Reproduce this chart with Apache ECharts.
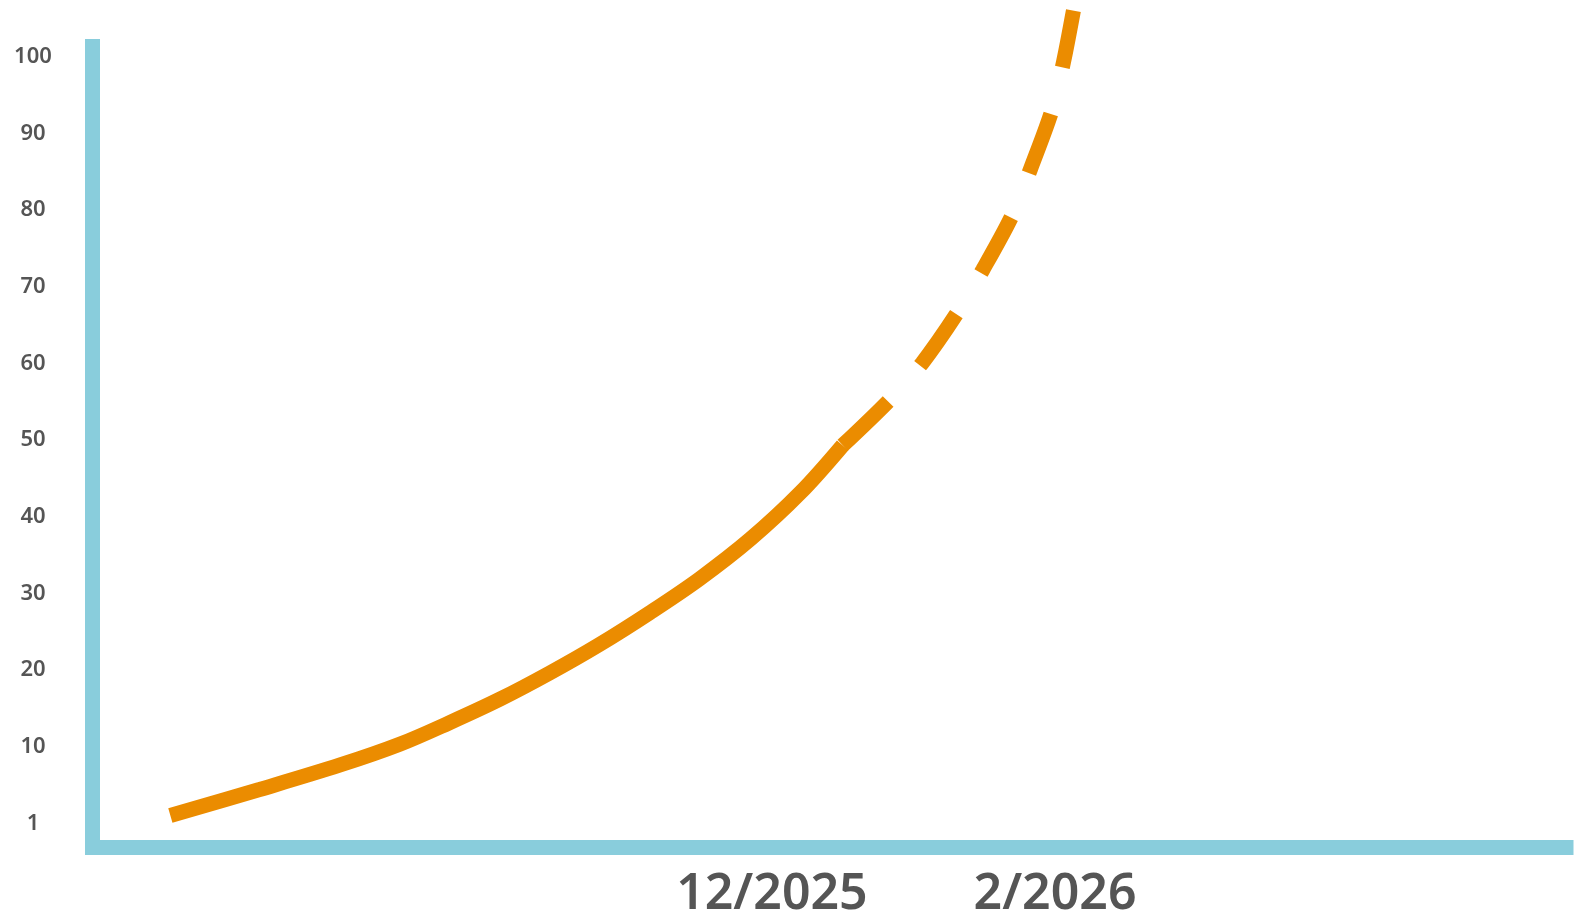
<!DOCTYPE html>
<html>
<head>
<meta charset="utf-8">
<style>
html,body{margin:0;padding:0;background:#fff;}
#chart{width:1574px;height:921px;}
</style>
<script src="https://cdn.jsdelivr.net/npm/echarts@6/dist/echarts.min.js"></script>
</head>
<body>
<div id="chart"></div>
<script>
// x values: month index (12 = 12/2025, 14 = 2/2026)
const actualMonths = [7.75, 8.38, 8.95, 9.37, 9.72, 10.08, 10.43, 10.78, 11.14, 11.49, 11.85, 12.20, 12.50];
const actualValues = [1.0, 4.4, 7.6, 10.3, 13.1, 16.2, 19.6, 23.3, 27.5, 31.9, 37.1, 43.1, 49.3];
const forecastMonths = [12.50, 12.83, 13.06, 13.31, 13.49, 13.70, 13.83, 13.98, 14.06, 14.13];
const forecastValues = [49.3, 55.2, 60.0, 66.6, 72.2, 79.4, 85.5, 93.1, 99.3, 106.0];
const yTicks = [0, 10, 20, 30, 40, 50, 60, 70, 80, 90, 100];
const yTickLabels = ['1', '10', '20', '30', '40', '50', '60', '70', '80', '90', '100'];
const xTicks = [12, 14];
const xTickLabels = ['12/2025', '2/2026'];

const chart = echarts.init(document.getElementById('chart'));
const axisBlue = '#89CDDC';
const orange = '#EB8C00';
chart.setOption({
  animation: false,
  backgroundColor: '#ffffff',
  grid: {left: 92.5, right: 8, top: 39, bottom: 74, containLabel: false},
  xAxis: {
    type: 'value', min: 7.2, max: 17.61,
    axisLine: {show: true, onZero: false, lineStyle: {color: axisBlue, width: 15, cap: 'square'}},
    axisTick: {show: false},
    splitLine: {show: false},
    axisLabel: {
      customValues: xTicks,
      formatter: v => xTickLabels[xTicks.indexOf(v)],
      color: '#555555', fontSize: 50, fontWeight: 600, fontFamily: 'Noto Sans',
      verticalAlign: 'middle', margin: 48
    }
  },
  yAxis: {
    type: 'value', min: -3.1, max: 102.3,
    axisLine: {show: true, onZero: false, lineStyle: {color: axisBlue, width: 15, cap: 'butt'}},
    axisTick: {show: false},
    splitLine: {show: false},
    axisLabel: {
      customValues: yTicks,
      formatter: v => yTickLabels[yTicks.indexOf(v)],
      color: '#555555', fontSize: 22, fontWeight: 600, fontFamily: 'Noto Sans',
      align: 'center', margin: 59.5
    }
  },
  series: [
    {
      type: 'line', data: actualMonths.map((m, i) => [m, actualValues[i]]),
      smooth: 0.35, symbol: 'none', clip: false,
      lineStyle: {color: orange, width: 15, cap: 'butt'}
    },
    {
      type: 'line', data: forecastMonths.map((m, i) => [m, forecastValues[i]]),
      smooth: 0.3, symbol: 'none', clip: false,
      lineStyle: {color: orange, width: 15, cap: 'butt', type: [63, 48]}
    }
  ]
});
</script>
</body>
</html>
